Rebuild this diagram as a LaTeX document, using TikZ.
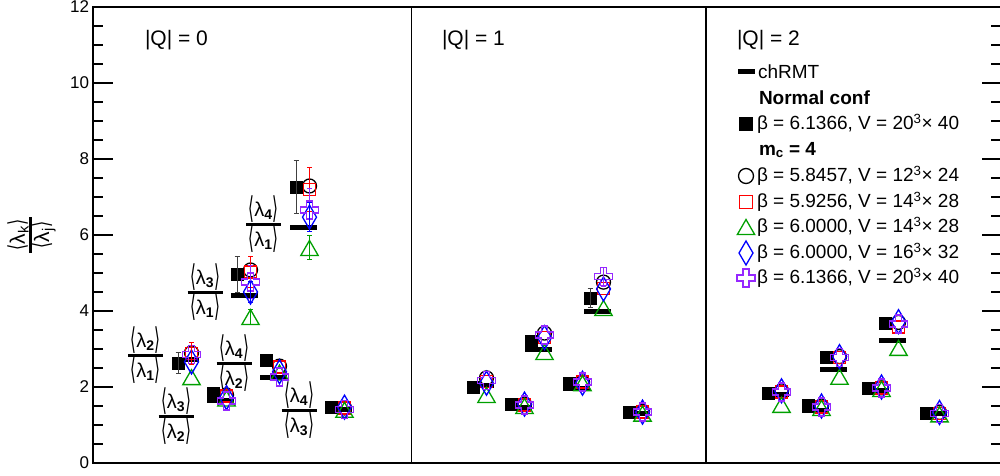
\documentclass[tikz,border=0pt]{standalone}
\usepackage{fontspec}
\setmainfont{Liberation Sans}
\newfontfamily\dvs{DejaVu Sans}
\usepackage{graphicx}
\usetikzlibrary{shapes.geometric,arrows.meta}
\definecolor{mred}{RGB}{255,0,0}
\definecolor{mgreen}{RGB}{0,160,0}
\definecolor{mblue}{RGB}{0,0,255}
\definecolor{mpurple}{RGB}{150,40,255}
\newcommand{\lbr}{{\dvs\raisebox{-2pt}{\scalebox{0.75}[1.5]{⟨}}}}
\newcommand{\rbr}{{\dvs\raisebox{-2pt}{\scalebox{0.75}[1.5]{⟩}}}}
\newcommand{\La}[1]{\lbr λ\textsubscript{\bfseries #1}\rbr}
\newcommand{\Ly}[1]{{\dvs\scalebox{0.75}[1.1]{⟨}}λ\textsubscript{#1}{\dvs\scalebox{0.75}[1.1]{⟩}}}
\newcommand{\clu}[9]{%
  \node[rmtbar] (#1bar) at (#2+7.5,#4) {};
  \node[bsq] (#1sq) at (#2,#3) {};
  \node[ocirc] (#1ci) at (#2+13.5,#5) {};
  \node[osq] (#1rs) at (#2+13.5,#6) {};
  \node[otri] (#1tr) at (#2+13.5,#7) {};
  \node[odia] (#1di) at (#2+13.5,#8) {};
  \pic at (#2+13.5,#9) {ocross};}
\newcommand{\eb}[4]{\draw[errb,#1] (#2,#3-#4) -- (#2,#3+#4);}
\newcommand{\fr}[5]{%
  \begin{scope}[shift={(#2,#3)}]
  \draw[ratline] (-17.5,0) -- (17.5,0);
  \node[ratn,anchor=south] (#1n) at (0,1.5) {\La{#4}};
  \node[ratn,anchor=north] (#1d) at (0,-1.5) {\La{#5}};
  \end{scope}}
\tikzset{
  pics/ocross/.style={code={\draw[mpurple,line width=1.3pt]
    (-3pt,9pt) -- (3pt,9pt) -- (3pt,3pt) -- (9pt,3pt) -- (9pt,-3pt) -- (3pt,-3pt) -- (3pt,-9pt)
    -- (-3pt,-9pt) -- (-3pt,-3pt) -- (-9pt,-3pt) -- (-9pt,3pt) -- (-3pt,3pt) -- cycle;}},
}
\begin{document}
\begin{tikzpicture}[x=1pt,y=1pt,
  every node/.style={inner sep=0pt,outer sep=0pt},
  frame/.style={line width=2pt},
  tickm/.style={line width=1.3pt},
  bsq/.style={rectangle,fill=black,minimum size=13pt},
  rmtbar/.style={rectangle,fill=black,minimum width=27pt,minimum height=5pt},
  ocirc/.style={circle,draw=black,line width=1.3pt,minimum size=14pt},
  osq/.style={rectangle,draw=mred,line width=1.3pt,minimum size=12pt},
  otri/.style={regular polygon,regular polygon sides=3,draw=mgreen,line width=1.3pt,minimum size=20pt,yshift=-2.5pt},
  odia/.style={diamond,draw=mblue,line width=1.3pt,minimum width=14pt,minimum height=24pt},
  errb/.style={line width=1pt,{Bar[width=5pt]}-{Bar[width=5pt]}},
  ratline/.style={line width=3pt},
  ratn/.style={font=\fontsize{20}{22}\selectfont},
  ticklab/.style={font=\fontsize{17}{20}\selectfont,anchor=east},
  head/.style={font=\fontsize{21}{24}\selectfont,anchor=west},
  leg/.style={font=\fontsize{19}{22}\selectfont,anchor=west},
]
\useasboundingbox (0,0) rectangle (1000,475);
\fill[white] (0,0) rectangle (1000,475);
% frame and panels
\draw[frame] (93,12) rectangle (1003,468);
\draw[line width=1.5pt] (411.5,12) -- (411.5,468);
\draw[line width=1.5pt] (706,12) -- (706,468);
% ticks
\foreach \v in {0,0.5,...,12}{
  \pgfmathsetmacro{\yy}{12+38*\v}
  \pgfmathtruncatemacro{\mj}{mod(round(\v*2),4)==0}
  \ifnum\mj=1
    \draw[tickm] (93,\yy) -- (113,\yy);
    \draw[tickm] (982,\yy) -- (1000,\yy);
  \else
    \draw[tickm] (93,\yy) -- (103,\yy);
    \draw[tickm] (991,\yy) -- (1000,\yy);
  \fi}
\foreach \v in {0,2,...,12}{
  \node[ticklab] (t\v) at (89,12+38*\v) {\v};}
% y label
\begin{scope}[shift={(30,240)},rotate=90,transform shape]
  \draw[ratline] (-18,0) -- (18,0);
  \node[anchor=south,font=\fontsize{21}{24}\selectfont] (ylabn) at (0,1.5) {\Ly{k}};
  \node[anchor=north,font=\fontsize{21}{24}\selectfont] (ylabd) at (0,-1.5) {\Ly{j}};
\end{scope}
% headings
\node[head] (q0) at (145,435) {|Q| = 0};
\node[head] (q1) at (442,435) {|Q| = 1};
\node[head] (q2) at (737,435) {|Q| = 2};
% ratio labels
\fr{r21}{145.5}{120}{2}{1}
\fr{r32}{176}{59}{3}{2}
\fr{r31}{205}{183}{3}{1}
\fr{r42}{234}{112}{4}{2}
\fr{r41}{263.5}{251}{4}{1}
\fr{r43}{299}{65}{4}{3}
% data
\begin{scope}[y=38pt,yshift=12pt]
\clu{a1}{178}{2.63}{2.72}{2.90}{2.88}{2.26}{2.66}{2.85}
\clu{a2}{213}{1.84}{1.65}{1.79}{1.76}{1.70}{1.72}{1.63}
\clu{a3}{237}{4.97}{4.42}{5.08}{5.03}{3.84}{4.50}{4.76}
\clu{a4}{266}{2.71}{2.26}{2.55}{2.53}{2.38}{2.40}{2.26}
\clu{a5}{296}{7.26}{6.20}{7.29}{7.20}{5.66}{6.47}{6.66}
\clu{a6}{331}{1.45}{1.42}{1.45}{1.45}{1.40}{1.47}{1.40}
\clu{b1}{473}{2.00}{2.05}{2.24}{2.15}{1.79}{2.10}{2.18}
\clu{b2}{511}{1.55}{1.45}{1.55}{1.53}{1.50}{1.55}{1.53}
\clu{b3}{531}{3.20}{3.00}{3.42}{3.30}{2.92}{3.30}{3.37}
\clu{b4}{569}{2.10}{1.95}{2.13}{2.13}{2.10}{2.10}{2.13}
\clu{b5}{590}{4.34}{4.00}{4.76}{4.60}{4.08}{4.58}{4.90}
\clu{b6}{629}{1.34}{1.30}{1.36}{1.34}{1.30}{1.34}{1.34}
\clu{c1}{768}{1.82}{1.80}{1.90}{1.87}{1.53}{1.90}{1.87}
\clu{c2}{808}{1.52}{1.37}{1.50}{1.47}{1.45}{1.50}{1.47}
\clu{c3}{826}{2.78}{2.47}{2.80}{2.78}{2.27}{2.80}{2.78}
\clu{c4}{868}{1.97}{1.92}{1.98}{1.97}{1.95}{2.00}{1.97}
\clu{c5}{885}{3.66}{3.22}{3.70}{3.58}{3.03}{3.72}{3.66}
\clu{c6}{926}{1.29}{1.30}{1.33}{1.31}{1.28}{1.33}{1.31}
% error bars
\eb{black!75}{296}{7.26}{0.72}
\eb{black!75}{237}{4.97}{0.49}
\eb{black!75}{178}{2.63}{0.28}
\eb{black!75}{590}{4.34}{0.26}
\eb{mred}{309.5}{7.20}{0.60}
\eb{mred}{250.5}{5.03}{0.42}
\eb{mred}{191.5}{2.88}{0.30}
\eb{mpurple}{309.5}{6.66}{0.58}
\eb{mpurple}{250.5}{4.76}{0.45}
\eb{mpurple}{603.5}{4.90}{0.26}
\eb{mgreen}{309.5}{5.66}{0.33}
\eb{mgreen}{250.5}{3.84}{0.20}
\eb{mblue}{309.5}{6.47}{0.40}
\eb{mblue}{250.5}{4.50}{0.30}
\end{scope}
% legend
\node[rectangle,fill=black,minimum width=17pt,minimum height=5pt] (lgbar) at (746.5,403) {};
\node[leg] (lgbart) at (758,403) {chRMT};
\node[leg] (lgnorm) at (759,377) {\bfseries Normal conf};
\node[bsq,minimum size=14pt] (lgsq) at (746,351) {};
\node[leg] (lgsqt) at (757,351) {β = 6.1366, V = 20\textsuperscript{3}× 40};
\node[leg] (lgmc) at (759,325) {\bfseries m\textsubscript{c} = 4};
\node[ocirc,minimum size=15pt] (lgci) at (746,299) {};
\node[leg] (lgcit) at (757,299) {β = 5.8457, V = 12\textsuperscript{3}× 24};
\node[osq,minimum size=13pt] (lgrs) at (746,273) {};
\node[leg] (lgrst) at (757,273) {β = 5.9256, V = 14\textsuperscript{3}× 28};
\node[otri] (lgtr) at (746,248) {};
\node[leg] (lgtrt) at (757,248) {β = 6.0000, V = 14\textsuperscript{3}× 28};
\node[odia] (lgdi) at (746,222) {};
\node[leg] (lgdit) at (757,222) {β = 6.0000, V = 16\textsuperscript{3}× 32};
\pic at (746,197) {ocross};
\node[leg] (lgcrt) at (757,197) {β = 6.1366, V = 20\textsuperscript{3}× 40};
\end{tikzpicture}
\end{document}
